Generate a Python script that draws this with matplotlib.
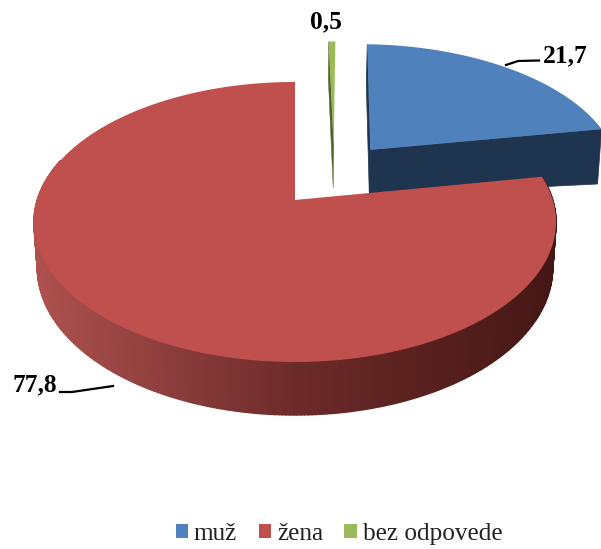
import numpy as np
import matplotlib
matplotlib.use('Agg')
import matplotlib.pyplot as plt
from matplotlib.patches import Patch

labels = ['muž', 'žena', 'bez odpovede']
values = [21.7, 77.8, 0.5]
colors = ['#4F81BD', '#C0504D', '#9BBB59']
wall_colors = ['#1F344F', '#6B2A29', '#4F6228']

# where each slice begins, degrees clockwise from the top, and how far it is pulled out
starts = [values[2] * 3.6, 360 - values[1] * 3.6, 0.0]
offsets = [(0.31, 0.39), (0.0, 0.0), (0.16, 0.42)]

# the tilted pie in pixels
cx, cy = 295, 222
a, b, c, k = 257.8, 140, 22, 0.157
depth = 44.7


def project(x, y):
    d = 1 + k * y
    return a * x / d, (b * y + c) / d, d


def slice_rim(i, n=200):
    th = np.radians(np.linspace(starts[i], starts[i] + values[i] * 3.6, n))
    dx, dy = offsets[i]
    return np.sin(th) + dx, np.cos(th) + dy


def top_pts(x, y):
    X, Y, d = project(x, y)
    return cx + X, cy - Y


def bottom_pts(x, y, slope=0.0):
    X, Y, d = project(x, y)
    return cx + X * 0.987, cy - Y + depth / d + slope * X


fig = plt.figure(figsize=(6.01, 5.49), dpi=100)
ax = fig.add_axes([0, 0, 1, 1])
ax.set_xlim(0, 601)
ax.set_ylim(549, 0)
ax.axis('off')

# blue
x, y = slice_rim(0)
dx, dy = offsets[0]
xs = np.r_[dx, x]
ys = np.r_[dy, y]
tx, ty = top_pts(xs, ys)
bx, by = bottom_pts(xs, ys, slope=0.045)
ax.fill(np.r_[tx[:2], bx[1::-1]], np.r_[ty[:2], by[1::-1]], color=wall_colors[0], lw=0.5)
ax.fill(np.r_[tx[0], tx[-1], bx[-1], bx[0]], np.r_[ty[0], ty[-1], by[-1], by[0]], color=wall_colors[0], lw=0.5)
ax.fill(tx, ty, color=colors[0], lw=0)

# green
x, y = slice_rim(2, 10)
dx, dy = offsets[2]
xs = np.r_[dx, x]
ys = np.r_[dy, y]
tx, ty = top_pts(xs, ys)
bx, by = bottom_pts(xs, ys)
ax.fill(np.r_[tx[:2], bx[1::-1]], np.r_[ty[:2], by[1::-1]], color=wall_colors[2], lw=0.3)
ax.fill(tx, ty, color=colors[2], lw=0)

# red, the side is shaded strip by strip
x, y = slice_rim(1, 400)
tx, ty = top_pts(x, y)
bx, by = bottom_pts(x, y)
for j in range(len(x) - 1):
    if y[j] > 0.3:
        continue
    mid = (tx[j] + tx[j + 1]) / 2
    col = [np.interp(mid, [34, 300, 555], s) for s in ([0.68, 0.42, 0.27], [0.32, 0.165, 0.09], [0.31, 0.16, 0.08])]
    ax.fill([tx[j], tx[j + 1], bx[j + 1], bx[j]], [ty[j], ty[j + 1], by[j + 1], by[j]], color=col, lw=1.0)
ax.fill(np.r_[cx + project(0, 0)[0], tx], np.r_[cy - project(0, 0)[1], ty], color=colors[1], lw=0)

# value labels with leader lines
font = dict(family='Liberation Serif', fontweight='bold', fontsize=18.4, color='black')
txt = [str(v).replace('.', ',') for v in values]
ax.text(543, 62, txt[0], ha='left', va='baseline', **font)
ax.text(12, 391, txt[1], ha='left', va='baseline', **font)
ax.text(326, 28, txt[2], ha='center', va='baseline', **font)
ax.plot([506, 518, 539], [65, 61, 60.5], color='black', lw=1.6)
ax.plot([60, 72, 113], [392, 392, 386], color='black', lw=1.6)

handles = [Patch(facecolor=co, edgecolor='none') for co in colors]
ax.legend(handles, labels, ncol=3, loc='center', bbox_to_anchor=(339 / 601, 1 - 534 / 549), frameon=False,
          prop={'family': 'Liberation Serif', 'size': 18.2}, handlelength=0.48, handleheight=0.48,
          handletextpad=0.24, columnspacing=0.85, borderpad=0, labelcolor='#222222')

fig.savefig('out.png', dpi=100)
